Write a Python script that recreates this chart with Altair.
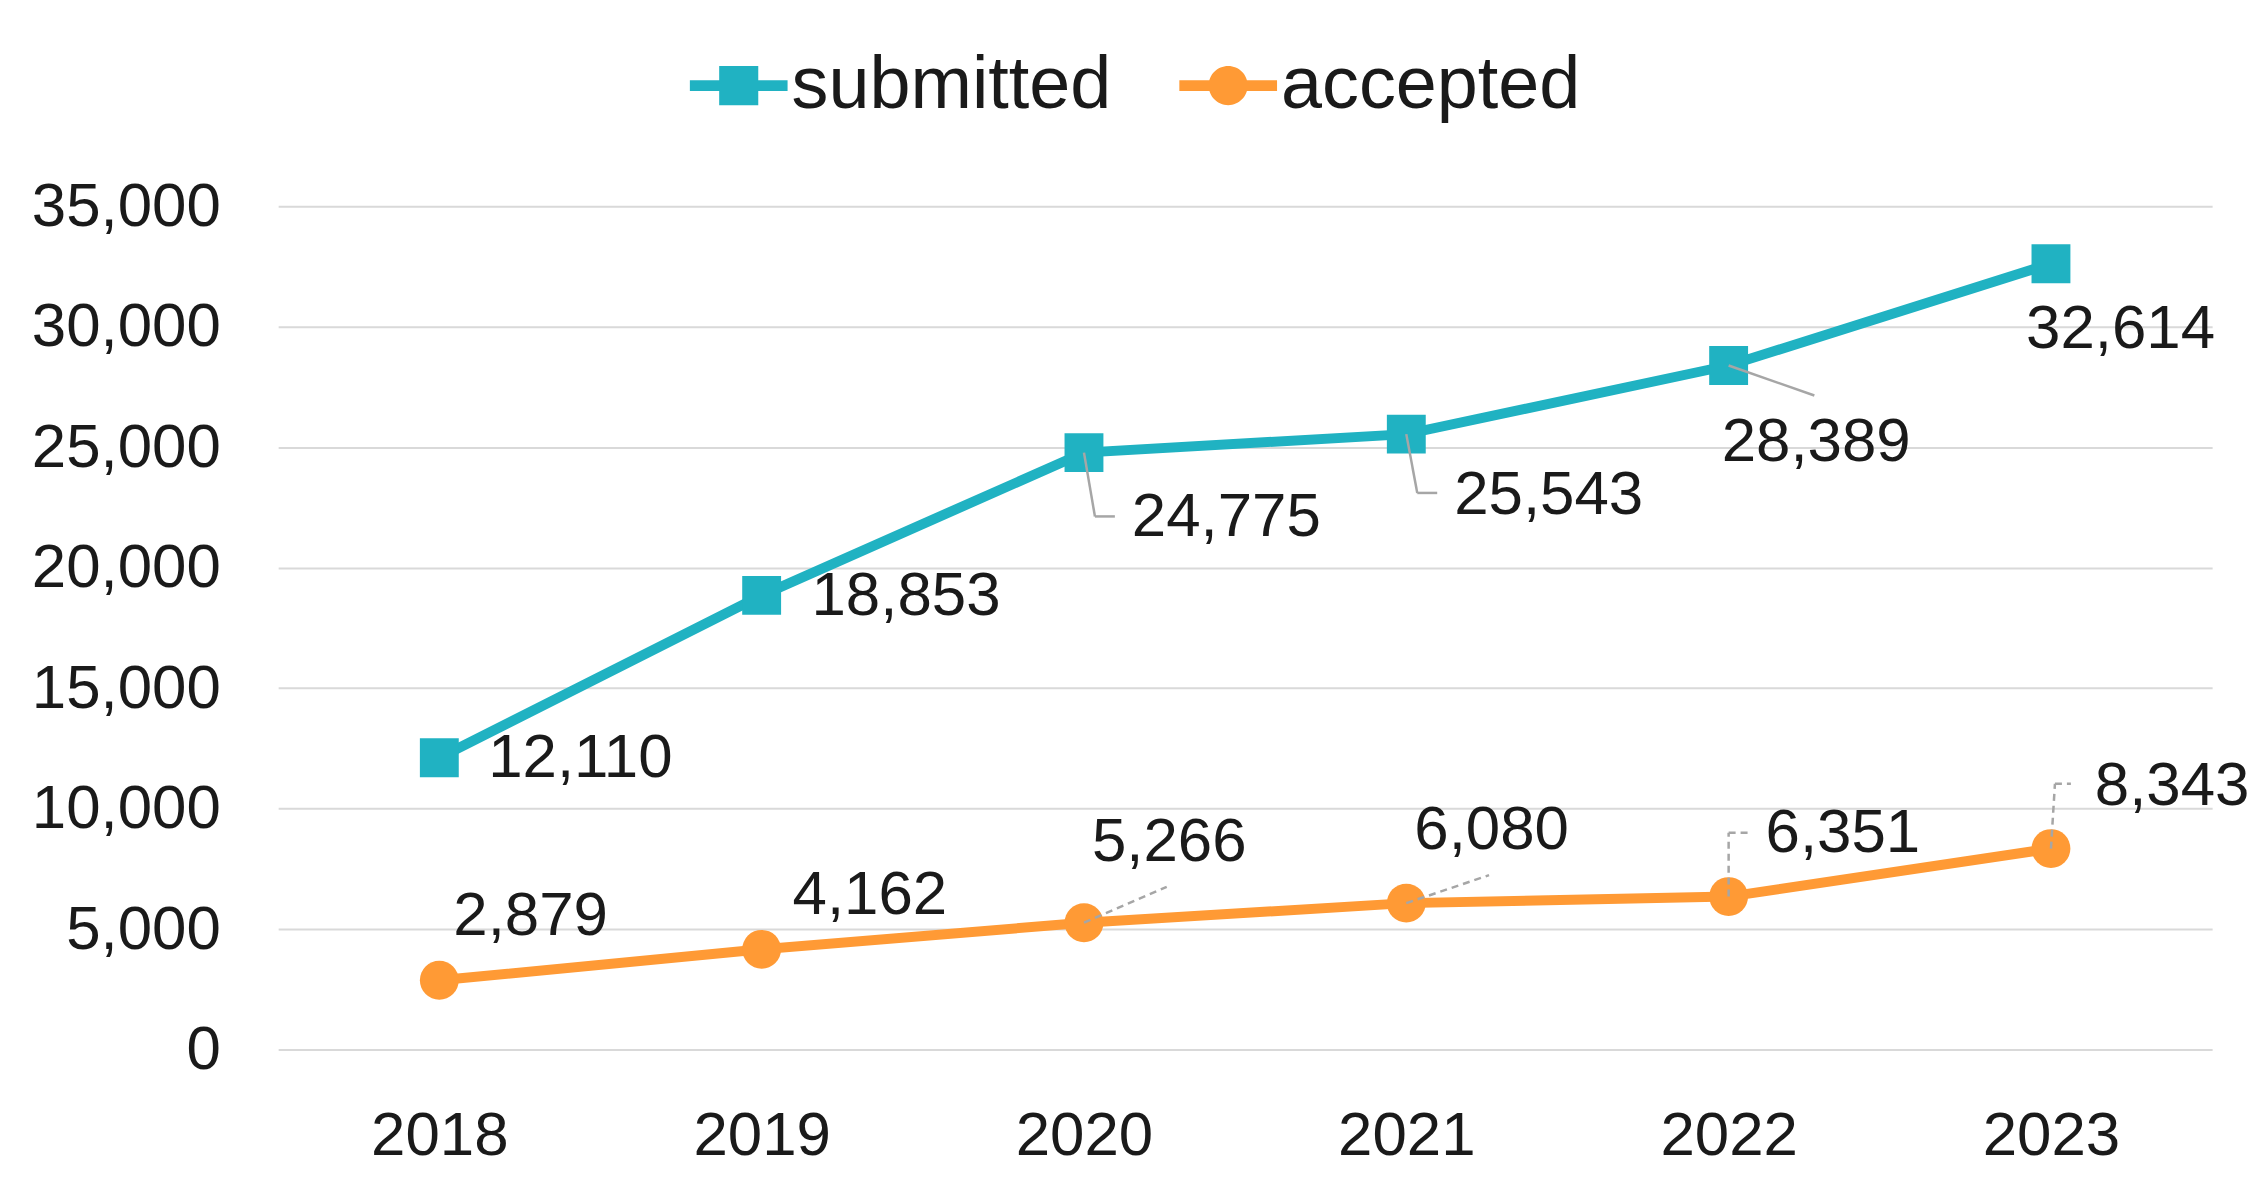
import altair as alt
import pandas as pd

# ---- data ----
years = ["2018", "2019", "2020", "2021", "2022", "2023"]
submitted = [12110, 18853, 24775, 25543, 28389, 32614]
accepted = [2879, 4162, 5266, 6080, 6351, 8343]
series_names = ["submitted", "accepted"]
series_colors = ["#20B2C2", "#FF9A35"]
y_ticks = [0, 5000, 10000, 15000, 20000, 25000, 30000, 35000]

# ---- label placement (pixel offsets from each point) ----
label_dx = {"submitted": [49, 50, 48, 48, -7, -25],
            "accepted": [14, 31, 8, 8, 37, 44]}
label_dy = {"submitted": [0, 1, 65, 61, 77, 66],
            "accepted": [-64, -54, -81, -73, -64, -63]}
# leader lines: polylines of pixel offsets from the point
leaders = {
    ("submitted", "2020"): [(0, 0), (11, 64), (31, 64)],
    ("submitted", "2021"): [(0, 0), (11, 59), (31, 59)],
    ("submitted", "2022"): [(0, 0), (86, 30)],
    ("accepted", "2020"): [(0, 0), (83, -36)],
    ("accepted", "2021"): [(0, 0), (83, -28)],
    ("accepted", "2022"): [(0, 0), (0, -64), (20, -64)],
    ("accepted", "2023"): [(0, 0), (4, -65), (20, -65)],
}

rows = []
for name, vals in zip(series_names, [submitted, accepted]):
    for yr, v in zip(years, vals):
        rows.append({"year": yr, "series": name, "value": v})
df = pd.DataFrame(rows)

FONT = "Liberation Sans"
TEXT = "#1a1a1a"
FS = 62
W, H = 1940, 846

x_enc = alt.X(
    "year:O",
    scale=alt.Scale(type="point", padding=0.5, domain=years),
    axis=alt.Axis(title=None, labelAngle=0, ticks=False, tickSize=0, domain=False,
                  grid=False, labelPadding=56, labelFontSize=FS, labelFont=FONT,
                  labelColor=TEXT),
)
y_enc = alt.Y(
    "value:Q",
    scale=alt.Scale(domain=[0, 35000], nice=False, zero=True),
    axis=alt.Axis(title=None, values=y_ticks, labelExpr="format(datum.value, ',')",
                  ticks=False, tickSize=0, labelLimit=1000,
                  domain=False, grid=True, gridColor="#d9d9d9", gridWidth=2,
                  labelPadding=58, labelFontSize=FS, labelFont=FONT, labelColor=TEXT),
)

base = alt.Chart(df)
layers = []

# lines
for name, color in zip(series_names, series_colors):
    layers.append(
        base.transform_filter(alt.datum.series == name)
        .mark_line(strokeWidth=10, color=color)
        .encode(x=x_enc, y=y_enc)
    )

# markers
marker_shape = {"submitted": "square", "accepted": "circle"}
marker_size = {"submitted": 1521, "accepted": 1521}
for name, color in zip(series_names, series_colors):
    layers.append(
        base.transform_filter(alt.datum.series == name)
        .mark_point(shape=marker_shape[name], filled=True, size=marker_size[name],
                    opacity=1, color=color, strokeWidth=0)
        .encode(x=x_enc, y=y_enc)
    )

# legend (invisible layer that only provides the legend)
sq_path = "M-1,-0.11H1V0.11H-1Z M-0.4,-0.4H0.4V0.4H-0.4Z"
ci_path = ("M-1,-0.11H1V0.11H-1Z "
           "M-0.4,0A0.4,0.4,0,1,1,0.4,0A0.4,0.4,0,1,1,-0.4,0Z")
leg = alt.Legend(title=None, orient="none", direction="horizontal",
                 legendX=413, legendY=-170, symbolSize=9604, symbolStrokeWidth=0,
                 symbolOpacity=1, labelFontSize=74, labelFont=FONT, labelColor=TEXT,
                 labelOffset=4, columnPadding=68, labelLimit=1000, padding=0)
layers.append(
    base.mark_point(filled=True, opacity=0, size=100)
    .encode(
        x=x_enc, y=y_enc,
        color=alt.Color("series:N", scale=alt.Scale(domain=series_names, range=series_colors), legend=leg),
        shape=alt.Shape("series:N", scale=alt.Scale(domain=series_names, range=[sq_path, ci_path]), legend=leg),
    )
)

# leader lines
for (name, yr), pts in leaders.items():
    dashed = name == "accepted"
    for (ax, ay), (bx, by) in zip(pts[:-1], pts[1:]):
        kw = dict(color="#a6a6a6", strokeWidth=2.5, xOffset=ax, yOffset=ay,
                  x2Offset=bx, y2Offset=by)
        if dashed:
            kw["strokeDash"] = [7, 5]
        layers.append(
            base.transform_filter((alt.datum.series == name) & (alt.datum.year == yr))
            .mark_rule(**kw)
            .encode(x=x_enc, x2=alt.X2("year"), y=y_enc, y2=alt.Y2("value"))
        )

# data labels
for name in series_names:
    for i, yr in enumerate(years):
        layers.append(
            base.transform_filter((alt.datum.series == name) & (alt.datum.year == yr))
            .mark_text(align="left", baseline="middle", dx=label_dx[name][i],
                       dy=label_dy[name][i], fontSize=FS, font=FONT, color=TEXT)
            .encode(x=x_enc, y=y_enc, text=alt.Text("value:Q", format=","))
        )

chart = (
    alt.layer(*layers)
    .properties(width=W, height=H, autosize=alt.AutoSizeParams(type="none"),
                padding={"left": 271, "top": 197, "right": 40, "bottom": 150},
                background="white")
    .configure_view(stroke=None)
)

chart.save("out.html", embed_options={"renderer": "svg", "actions": False})
